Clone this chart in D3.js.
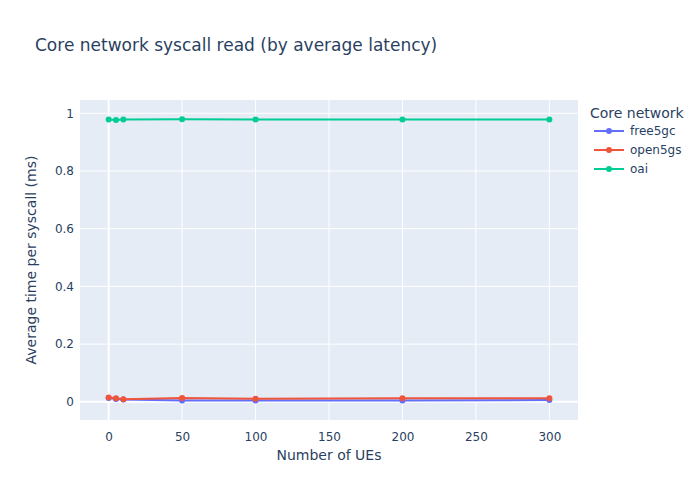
<!DOCTYPE html>
<html lang="en">
<head>
<meta charset="UTF-8">
<title>Core network syscall read</title>
<script src="https://d3js.org/d3.v7.min.js"></script>
<style>
	body { margin: 0; background: white; }
	text { font-family: "DejaVu Sans", verdana, arial, sans-serif; fill: #2a3f5f; }
</style>
</head>
<body>
<div id="chart"></div>
<script>
	// data
	const ues = [0, 5, 10, 50, 100, 200, 300];
	const networks = ["free5gc", "open5gs", "oai"];
	const colors = ["#636efa", "#EF553B", "#00cc96"];
	const free5gc = [0.013, 0.010, 0.008, 0.005, 0.005, 0.005, 0.006];
	const open5gs = [0.015, 0.012, 0.009, 0.013, 0.011, 0.012, 0.012];
	const oai = [0.978, 0.977, 0.978, 0.979, 0.978, 0.978, 0.978];
	const xTicks = [0, 50, 100, 150, 200, 250, 300];
	const yTicks = [0, 0.2, 0.4, 0.6, 0.8, 1];

	const series = [free5gc, open5gs, oai];

	const width = 700, height = 500;
	const margin = { top: 100, right: 122, bottom: 80, left: 80 };

	const svg = d3.select("#chart").append("svg")
		.attr("width", width)
		.attr("height", height);

	const x = d3.scaleLinear()
		.domain([-19.5, 319.5])
		.range([margin.left, width - margin.right]);
	const y = d3.scaleLinear()
		.domain([-0.063, 1.046])
		.range([height - margin.bottom, margin.top]);

	// plot background
	svg.append("rect")
		.attr("x", margin.left)
		.attr("y", margin.top)
		.attr("width", width - margin.left - margin.right)
		.attr("height", height - margin.top - margin.bottom)
		.attr("fill", "#E5ECF6");

	// grid lines
	svg.append("g")
		.selectAll("line")
		.data(xTicks)
		.join("line")
		.attr("x1", d => x(d)).attr("x2", d => x(d))
		.attr("y1", margin.top).attr("y2", height - margin.bottom)
		.attr("stroke", "white")
		.attr("stroke-width", d => d === 0 ? 2 : 1);

	svg.append("g")
		.selectAll("line")
		.data(yTicks)
		.join("line")
		.attr("x1", margin.left).attr("x2", width - margin.right)
		.attr("y1", d => y(d)).attr("y2", d => y(d))
		.attr("stroke", "white")
		.attr("stroke-width", d => d === 0 ? 2 : 1);

	// axes (labels only, plotly style)
	const xAxis = svg.append("g")
		.attr("transform", `translate(0,${height - margin.bottom})`)
		.call(d3.axisBottom(x).tickValues(xTicks).tickSize(0).tickPadding(12));
	const yAxis = svg.append("g")
		.attr("transform", `translate(${margin.left},0)`)
		.call(d3.axisLeft(y).tickValues(yTicks).tickSize(0).tickPadding(6).tickFormat(d3.format("~g")));
	[xAxis, yAxis].forEach(a => {
		a.select(".domain").remove();
		a.selectAll("text")
			.attr("font-size", 12)
			.attr("fill", "#2a3f5f")
			.style("font-family", "\"DejaVu Sans\", verdana, arial, sans-serif");
	});

	// lines and markers
	const line = d3.line()
		.x((d, i) => x(ues[i]))
		.y(d => y(d));

	series.forEach((values, s) => {
		svg.append("path")
			.datum(values)
			.attr("d", line)
			.attr("fill", "none")
			.attr("stroke", colors[s])
			.attr("stroke-width", 2);
		svg.append("g")
			.selectAll("circle")
			.data(values)
			.join("circle")
			.attr("cx", (d, i) => x(ues[i]))
			.attr("cy", d => y(d))
			.attr("r", 3)
			.attr("fill", colors[s]);
	});

	// title
	svg.append("text")
		.attr("x", 35)
		.attr("y", 51)
		.attr("font-size", 17)
		.text("Core network syscall read (by average latency)");

	// axis titles
	svg.append("text")
		.attr("x", (margin.left + width - margin.right) / 2)
		.attr("y", 460)
		.attr("text-anchor", "middle")
		.attr("font-size", 14)
		.text("Number of UEs");

	svg.append("text")
		.attr("transform", `translate(36,${(margin.top + height - margin.bottom) / 2}) rotate(-90)`)
		.attr("text-anchor", "middle")
		.attr("font-size", 14)
		.text("Average time per syscall (ms)");

	// legend
	const legend = svg.append("g").attr("transform", "translate(590,0)");
	legend.append("text")
		.attr("x", 0)
		.attr("y", 118)
		.attr("font-size", 14)
		.text("Core network");
	const items = legend.selectAll("g.item")
		.data(networks)
		.join("g")
		.attr("class", "item")
		.attr("transform", (d, i) => `translate(0,${131 + i * 19})`);
	items.append("line")
		.attr("x1", 4).attr("x2", 34)
		.attr("stroke", (d, i) => colors[i])
		.attr("stroke-width", 2);
	items.append("circle")
		.attr("cx", 19)
		.attr("r", 3)
		.attr("fill", (d, i) => colors[i]);
	items.append("text")
		.attr("x", 40)
		.attr("y", 4)
		.attr("font-size", 12)
		.text(d => d);
</script>
</body>
</html>
